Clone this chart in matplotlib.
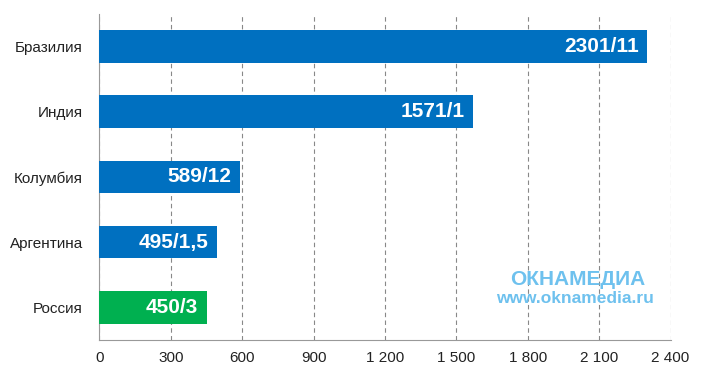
import matplotlib
matplotlib.use("Agg")
import matplotlib.pyplot as plt

plt.rcParams["font.family"] = ["Liberation Sans", "DejaVu Sans"]

countries = ["Бразилия", "Индия", "Колумбия", "Аргентина", "Россия"]
values = [2301, 1571, 589, 495, 450]
labels = ["2301/11", "1571/1", "589/12", "495/1,5", "450/3"]
colors = ["#0070C0", "#0070C0", "#0070C0", "#0070C0", "#00B050"]
xticks = [0, 300, 600, 900, 1200, 1500, 1800, 2100, 2400]
xtick_labels = ["0", "300", "600", "900", "1 200", "1 500", "1 800", "2 100", "2 400"]

fig = plt.figure(figsize=(7.03, 3.74), dpi=100)
ax = fig.add_axes([0.1415, 0.0909, 0.8123, 0.8717])

ypos = list(range(len(countries)))[::-1]
ax.barh(ypos, values, height=0.5, color=colors, zorder=3)
for y, v, lab in zip(ypos, values, labels):
    ax.text(v - 35, y, lab, ha="right", va="center", color="white",
            fontsize=15, fontweight="bold", zorder=4)

ax.set_xlim(0, 2400)
ax.set_ylim(-0.5, len(countries) - 0.5)
ax.set_yticks(ypos)
ax.set_yticklabels(countries, fontsize=11, color="#222222")
ax.set_xticks(xticks)
ax.set_xticklabels(xtick_labels, fontsize=11, color="#222222")
ax.tick_params(length=0)
ax.tick_params(axis="y", pad=12)
ax.tick_params(axis="x", pad=8)

ax.grid(axis="x", color="#888888", linestyle=(0, (4, 3)), linewidth=0.8, zorder=0)
for s in ["top", "right"]:
    ax.spines[s].set_visible(False)
ax.spines["left"].set_color("#999999")
ax.spines["bottom"].set_color("#999999")

# watermark
fig.text(0.822, 0.252, "ОКНАМЕДИА", ha="center", va="center", color="#6EC1EE",
         fontsize=15, fontweight="bold")
fig.text(0.818, 0.203, "www.oknamedia.ru", ha="center", va="center", color="#6EC1EE",
         fontsize=12.5, fontweight="bold")

fig.savefig("out.png", dpi=100, facecolor="white")
